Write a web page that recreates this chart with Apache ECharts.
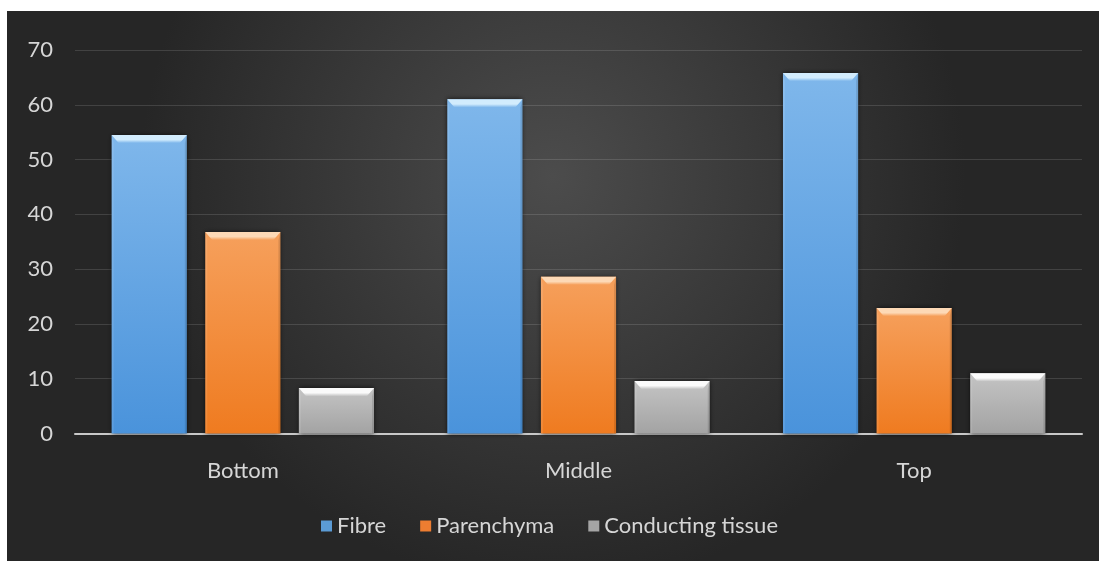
<!DOCTYPE html>
<html>
<head>
<meta charset="utf-8">
<script src="https://cdn.jsdelivr.net/npm/echarts@6/dist/echarts.min.js"></script>
<style>
  html, body { margin: 0; padding: 0; background: #ffffff; }
  #chart { width: 1099px; height: 561px; }
</style>
</head>
<body>
<div id="chart"></div>
<script>
// Stem position along the culm
const categories = ['Bottom', 'Middle', 'Top'];
// Tissue proportions (%)
const fibre = [54.5, 61.0, 65.8];
const parenchyma = [36.8, 28.6, 22.9];
const conducting = [8.3, 9.6, 11.0];
const yTicks = [0, 10, 20, 30, 40, 50, 60, 70];

const palette = [
  { name: 'Fibre', values: fibre, top: '#7fb7eb', bottom: '#4a93db', bevel: '#d2ecfd', base: '#5b9bd5' },
  { name: 'Parenchyma', values: parenchyma, top: '#f6a05c', bottom: '#ef7b20', bevel: '#fdd9b6', base: '#ed7d31' },
  { name: 'Conducting tissue', values: conducting, top: '#c4c4c4', bottom: '#a3a3a3', bevel: '#fafafa', base: '#a5a5a5' }
];

const chart = echarts.init(document.getElementById('chart'), null, { renderer: 'canvas' });

// Beveled column: body with vertical shading, light top chamfer, soft side edges
function bevelRenderer(slot, p) {
  return function (params, api) {
    const ci = api.value(0);
    const v = api.value(1);
    const top = api.coord([ci, v]);
    const base = api.coord([ci, 0]);
    const band = api.size([1, 0])[0];
    const w = band * 0.224;
    const gap = w * 0.245;
    const cx = top[0] + (slot - 1) * (w + gap);
    const x0 = cx - w / 2;
    const y0 = top[1];
    const h = base[1] - top[1];
    const b = Math.min(8, h / 3);
    const sb = 7;
    return {
      type: 'group',
      children: [
        {
          type: 'rect',
          shape: { x: x0, y: y0, width: w, height: h },
          style: {
            fill: new echarts.graphic.LinearGradient(0, 0, 0, 1, [
              { offset: 0, color: p.top },
              { offset: 1, color: p.bottom }
            ]),
            shadowBlur: 5,
            shadowColor: 'rgba(0,0,0,0.75)'
          }
        },
        {
          type: 'polygon',
          shape: { points: [[x0, y0], [x0 + 2, y0 + b], [x0 + 2, y0 + h], [x0, y0 + h]] },
          style: { fill: 'rgba(255,255,255,0.10)' }
        },
        {
          type: 'polygon',
          shape: { points: [[x0 + w, y0], [x0 + w - 2, y0 + b], [x0 + w - 2, y0 + h], [x0 + w, y0 + h]] },
          style: { fill: 'rgba(0,0,0,0.12)' }
        },
        {
          type: 'polygon',
          shape: { points: [[x0, y0], [x0 + w, y0], [x0 + w - sb, y0 + b], [x0 + sb, y0 + b]] },
          style: {
            fill: new echarts.graphic.LinearGradient(0, 0, 0, 1, [
              { offset: 0, color: p.bevel },
              { offset: 0.6, color: p.bevel },
              { offset: 1, color: p.top }
            ])
          }
        }
      ]
    };
  };
}

const series = palette.map(function (p, i) {
  return {
    name: p.name,
    type: 'custom',
    renderItem: bevelRenderer(i, p),
    itemStyle: { color: p.base },
    encode: { x: 0, y: 1 },
    data: p.values.map(function (v, k) { return [k, v]; }),
    z: 3
  };
});

const textColor = '#d6d6d6';
const fontFamily = 'Lato, "Open Sans", sans-serif';

chart.setOption({
  animation: false,
  backgroundColor: '#ffffff',
  graphic: [{
    type: 'rect',
    z: -10,
    silent: true,
    shape: { x: 7, y: 11, width: 1092, height: 550 },
    style: {
      fill: new echarts.graphic.RadialGradient(0.5, 0.3, 0.75, [
        { offset: 0, color: '#4c4c4c' },
        { offset: 1, color: '#262626' }
      ])
    }
  }],
  grid: { left: 75, right: 17, top: 50, bottom: 127.5 },
  legend: {
    bottom: 19,
    left: 'center',
    itemWidth: 11,
    itemHeight: 11,
    itemGap: 34,
    icon: 'rect',
    textStyle: { color: textColor, fontSize: 22, fontFamily: fontFamily },
    data: palette.map(function (p) { return p.name; })
  },
  xAxis: {
    type: 'category',
    data: categories,
    axisLine: { show: true, lineStyle: { color: '#c8c8c8', width: 2 } },
    axisTick: { show: false },
    axisLabel: { color: textColor, fontSize: 22, fontFamily: fontFamily, margin: 26 },
    splitLine: { show: false }
  },
  yAxis: {
    type: 'value',
    min: yTicks[0],
    max: yTicks[yTicks.length - 1],
    interval: 10,
    axisLine: { show: false },
    axisTick: { show: false },
    axisLabel: { color: textColor, fontSize: 22, fontFamily: fontFamily, margin: 22 },
    splitLine: { lineStyle: { color: 'rgba(255,255,255,0.13)', width: 1 } }
  },
  series: series
});
</script>
</body>
</html>
